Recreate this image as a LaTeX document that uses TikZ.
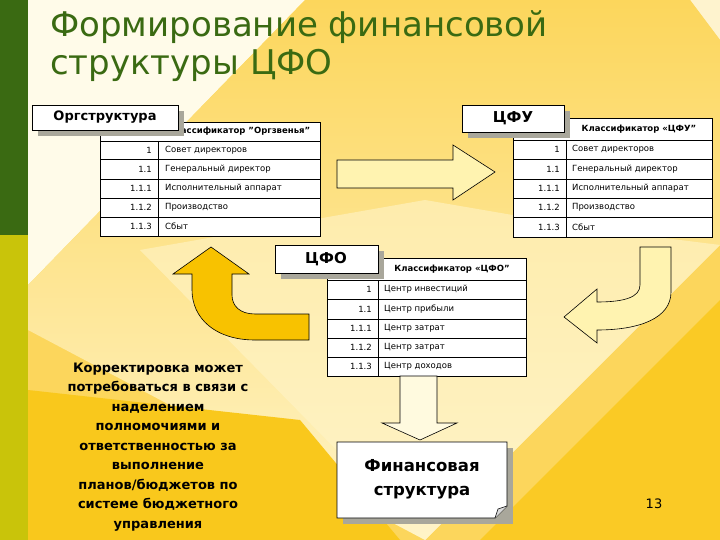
\documentclass[tikz,border=0pt]{standalone}
\usepackage{fontspec}
\setmainfont{DejaVu Sans}
\definecolor{dgreen}{HTML}{3A6A12}
\definecolor{olive}{HTML}{C9C40A}
\definecolor{yel}{HTML}{FCD65C}
\definecolor{cream}{HTML}{FFF4C8}
\definecolor{orng}{HTML}{F8C200}
\definecolor{pale}{HTML}{FFF3B0}
\definecolor{shad}{HTML}{A9A79B}
\tikzset{
  lbl/.style={inner sep=0pt,font=\fontsize{13}{14}\bfseries\selectfont},
  cell/.style={inner sep=0pt,font=\fontsize{8.5}{9}\selectfont},
  hdr/.style={inner sep=0pt,font=\fontsize{8.5}{9}\bfseries\selectfont},
  tline/.style={draw=black,line width=0.8pt},
  arr/.style={draw=black,line width=0.6pt},
}
\begin{document}
\begin{tikzpicture}[x=1pt,y=-1pt]
\useasboundingbox (0,0) rectangle (720,540);
% background
\fill[yel] (0,0) rectangle (720,540);
\fill[white!60!cream] (28,0) -- (305,0) -- (28,285) -- cycle;
\fill[white!70!yel] (690,0) -- (720,0) -- (720,40) -- cycle;
\shade[top color=yel,bottom color=cream] (305,0) -- (690,0) -- (720,40) -- (720,245) -- (425,540) -- (28,330) -- (28,285) -- cycle;
\fill[cream,opacity=0.6] (140,250) -- (425,540) -- (720,245) -- (600,230) -- (425,200) -- cycle;
\fill[orng!70!yel] (28,390) -- (28,540) -- (400,540) -- (300,420) -- cycle;
\fill[orng!60!yel] (720,300) -- (720,540) -- (480,540) -- cycle;
\fill[dgreen] (0,0) rectangle (28,235);
\fill[olive] (0,235) rectangle (28,540);
% title
\node[anchor=north west,inner sep=0pt,text=dgreen,align=left,font=\fontsize{34}{38}\selectfont] (title) at (50,10) {Формирование финансовой\\структуры ЦФО};
% straight right arrow
\path[fill=pale,arr] (337,160) -- (453,160) -- (453,145) -- (495,172) -- (453,200) -- (453,188) -- (337,188) -- cycle;
% left table
\fill[white] (100,122) rectangle (320,236);
\draw[tline] (100,122) rectangle (320,236);
\foreach \y in {141,159,179,198,217} \draw[tline] (100,\y) -- (320,\y);
\draw[tline] (158,141) -- (158,236);
\node[hdr] (lh) at (239,131) {Классификатор "Оргзвенья"};
\foreach \n/\t/\y [count=\i] in {1/Совет директоров/150,1.1/Генеральный директор/169,1.1.1/Исполнительный аппарат/188.5,1.1.2/Производство/207.5,1.1.3/Сбыт/226.5}{
  \node[cell,anchor=east] (ln\i) at (152,\y) {\n};
  \node[cell,anchor=west] (lt\i) at (165,\y) {\t};
}
% right table
\fill[white] (513,118) rectangle (712,237);
\draw[tline] (513,118) rectangle (712,237);
\foreach \y in {140,159,179,198,217} \draw[tline] (513,\y) -- (712,\y);
\draw[tline] (566,140) -- (566,237);
\node[hdr] (rh) at (639,129) {Классификатор «ЦФУ"};
\foreach \n/\t/\y [count=\i] in {1/Совет директоров/149.5,1.1/Генеральный директор/169,1.1.1/Исполнительный аппарат/188.5,1.1.2/Производство/207.5,1.1.3/Сбыт/227}{
  \node[cell,anchor=east] (rn\i) at (560,\y) {\n};
  \node[cell,anchor=west] (rt\i) at (572,\y) {\t};
}
% CFO table
\fill[white] (327,258) rectangle (526,376);
\draw[tline] (327,258) rectangle (526,376);
\foreach \y in {280,299,319,338,357} \draw[tline] (327,\y) -- (526,\y);
\draw[tline] (378,280) -- (378,376);
\node[hdr] (ch) at (452,269) {Классификатор «ЦФО"};
\foreach \n/\t/\y [count=\i] in {1/Центр инвестиций/289.5,1.1/Центр прибыли/309,1.1.1/Центр затрат/328.5,1.1.2/Центр затрат/347.5,1.1.3/Центр доходов/366.5}{
  \node[cell,anchor=east] (cn\i) at (372,\y) {\n};
  \node[cell,anchor=west] (ct\i) at (384,\y) {\t};
}
% label boxes with shadows
\fill[shad] (38,111) rectangle (184,136);
\draw[fill=white,line width=0.8pt] (32,105) rectangle (178,130);
\node[lbl] (org) at (105,117) {Оргструктура};
\fill[shad] (468,111) rectangle (570,138);
\draw[fill=white,line width=0.8pt] (462,105) rectangle (564,132);
\node[lbl,font=\fontsize{15}{16}\bfseries\selectfont] (cfu) at (513,118) {ЦФУ};
\fill[shad] (281,251) rectangle (384,279);
\draw[fill=white,line width=0.8pt] (275,245) rectangle (378,273);
\node[lbl,font=\fontsize{15}{16}\bfseries\selectfont] (cfo) at (326,259) {ЦФО};
% curved arrows
\path[fill=orng,arr] (211,247) -- (249,274) -- (232,274) -- (232,295) .. controls (232,306) and (240,314) .. (255,314) -- (309,314) -- (309,340) -- (255,340) .. controls (215,340) and (192,318) .. (192,290) -- (192,274) -- (173,274) -- cycle;
\path[fill=pale,arr] (640,247) -- (671,247) -- (671,292) .. controls (671,318) and (640,330) .. (597,330) -- (597,343) -- (564,317) -- (597,289) -- (597,302) .. controls (625,302) and (640,297) .. (640,285) -- cycle;
% down arrow
\path[fill=white!60!pale,arr] (400,376) -- (437,376) -- (437,423) -- (457,423) -- (420,440) -- (382,423) -- (400,423) -- cycle;
% final box
\fill[shad] (343,448) rectangle (513,524);
\draw[fill=white,line width=0.8pt] (337,442) -- (507,442) -- (507,506) -- (495,518) -- (337,518) -- cycle;
\draw[line width=0.6pt,fill=white!85!black] (507,506) -- (498,509) -- (495,518);
\node[lbl,align=center,font=\fontsize{16.5}{24}\bfseries\selectfont] (fin) at (422,479) {Финансовая\\структура};
% side text
\node[lbl,align=center,font=\fontsize{13}{19.5}\bfseries\selectfont] (note) at (158,447) {Корректировка может\\потребоваться в связи с\\наделением\\полномочиями и\\ответственностью за\\выполнение\\планов/бюджетов по\\системе бюджетного\\управления};
\node[inner sep=0pt,font=\fontsize{13}{14}\selectfont] (pg) at (654,504) {13};
\end{tikzpicture}
\end{document}
